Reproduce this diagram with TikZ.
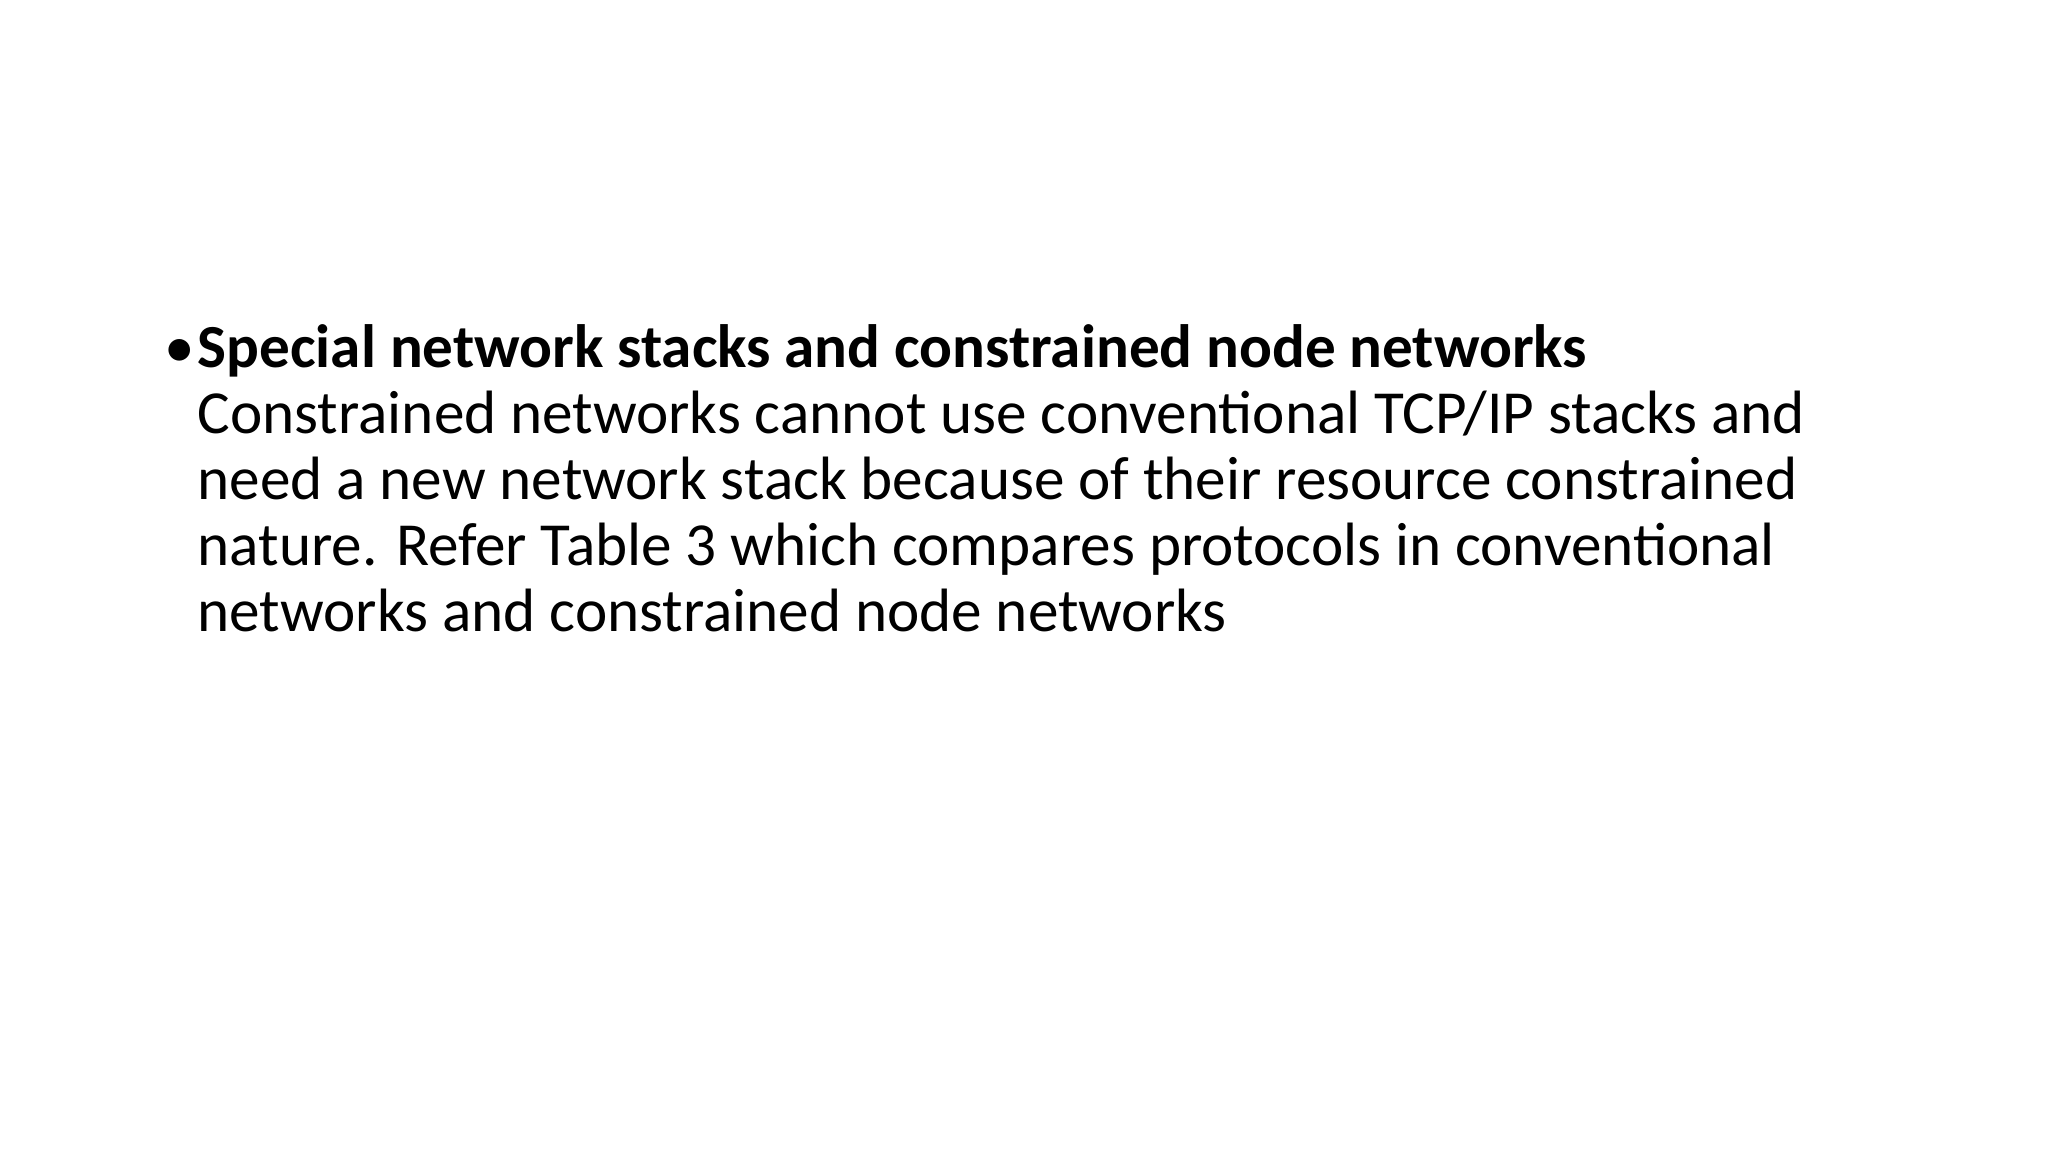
\documentclass[tikz,border=0pt]{standalone}
\usepackage{fontspec}
\setmainfont{Carlito}
\begin{document}
\begin{tikzpicture}[x=0.01cm,y=-0.01cm,
  txt/.style={anchor=base west,inner sep=0pt,font=\fontsize{17.4}{18.8}\selectfont}]
\useasboundingbox (0,0) rectangle (2048,1152);
\node[txt] (bul) at (164,368) {•};
\node[txt] (t1) at (197,368) {\bfseries Special network stacks and constrained node networks};
\node[txt] (t2) at (197,434) {Constrained networks cannot use conventional TCP/IP stacks and};
\node[txt] (t3) at (197,500) {need a new network stack because of their resource constrained};
\node[txt] (t4) at (197,566) {nature. Refer Table 3 which compares protocols in conventional};
\node[txt] (t5) at (197,632) {networks and constrained node networks};
\end{tikzpicture}
\end{document}
